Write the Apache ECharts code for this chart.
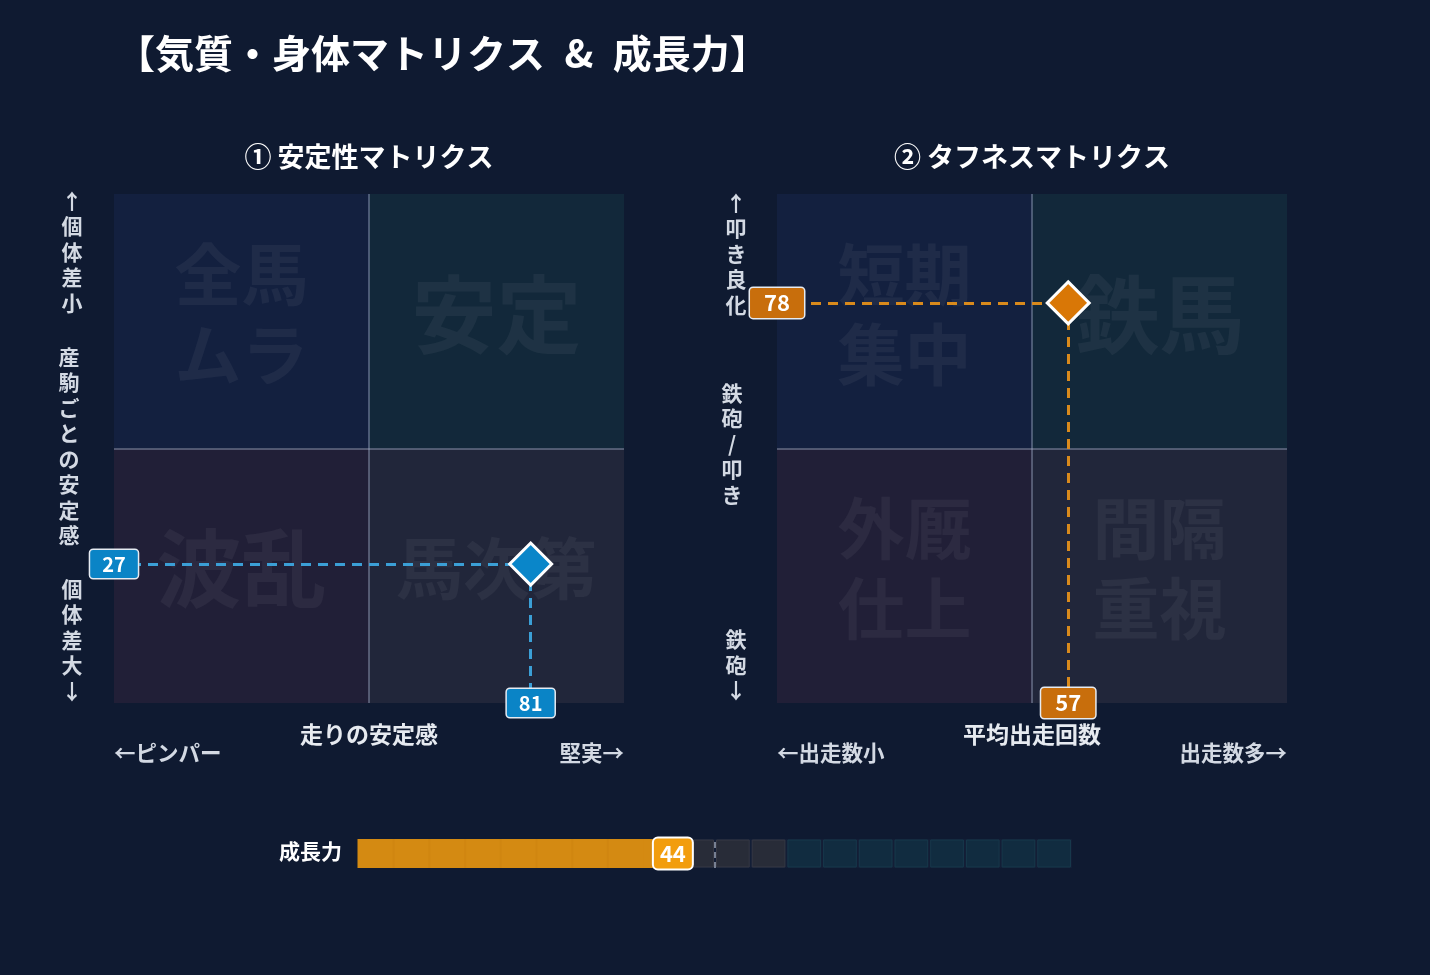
<!DOCTYPE html>
<html><head><meta charset="utf-8">
<script src="https://cdn.jsdelivr.net/npm/echarts@6/dist/echarts.min.js"></script>
<style>html,body{margin:0;padding:0;background:#0f1a31;}#c{width:1430px;height:975px;}</style>
</head><body><div id="c"></div>
<script>
// ---- data ----
const stabilityPoint = [81.7, 27.3];   // [走りの安定感, 産駒ごとの安定感]
const toughnessPoint = [57.1, 78.6];   // [平均出走回数, 鉄砲/叩き]
const growthValue = 44.1;              // 成長力
const stabilityQuadrants = ['全馬\nムラ', '安定', '波乱', '馬次第']; // TL, TR, BL, BR
const toughnessQuadrants = ['短期\n集中', '鉄馬', '外厩\n仕上', '間隔\n重視'];
const growthCellCount = 20;
const growthMidMark = 50;
const growthZoneBreak = 60;

// ---- style ----
const FONT = '"Noto Sans CJK JP","Noto Sans",sans-serif';
const quadColors = ['#13203f', '#12283a', '#211f37', '#21263a'];
const ghost = 'rgba(255,255,255,0.05)';
function ghostSize(name) {
  if (name.indexOf('\n') >= 0) return 67;
  return name.length >= 3 ? 67 : 85;
}
function quadrantArea(names) {
  const boxes = [[0, 50, 50, 100], [50, 50, 100, 100], [0, 0, 50, 50], [50, 0, 100, 50]];
  return boxes.map((b, i) => [
    { xAxis: b[0], yAxis: b[1], name: names[i], itemStyle: { color: quadColors[i], opacity: 1 },
      label: { show: true, position: 'inside', formatter: names[i], color: ghost, fontSize: ghostSize(names[i]),
        fontWeight: 'bold', fontFamily: FONT, lineHeight: 80, offset: [0, -7] } },
    { xAxis: b[2], yAxis: b[3] }
  ]);
}
function quadSeries(idx, names) {
  return {
    type: 'scatter', xAxisIndex: idx, yAxisIndex: idx, data: [], silent: true, z: 1,
    markArea: { silent: true, data: quadrantArea(names) },
    markLine: { silent: true, symbol: ['none', 'none'], label: { show: false },
      lineStyle: { type: 'solid', color: 'rgba(170,185,210,0.38)', width: 2 },
      data: [{ xAxis: 50 }, { yAxis: 50 }] }
  };
}
function pointSeries(idx, pt, fill, dash) {
  return {
    type: 'scatter', xAxisIndex: idx, yAxisIndex: idx, z: 5, clip: false,
    symbol: 'diamond', symbolSize: 42,
    itemStyle: { color: fill, borderColor: '#ffffff', borderWidth: 3, opacity: 1 },
    data: [pt],
    markLine: { silent: true, symbol: ['none', 'none'], label: { show: false },
      lineStyle: { type: [10, 7], color: dash, width: 3 },
      data: [
        [{ coord: [0, pt[1]] }, { coord: [pt[0], pt[1]] }],
        [{ coord: [pt[0], pt[1]] }, { coord: [pt[0], 0] }]
      ] }
  };
}
function valueLabelSeries(idx, pt, bg, fs, pad) {
  const lab = (v) => ({ show: true, position: 'inside', formatter: String(Math.floor(v)), color: '#ffffff',
    fontSize: fs, fontWeight: 'bold', fontFamily: FONT, backgroundColor: bg,
    borderColor: '#e6ebf2', borderWidth: 1.5, borderRadius: 3, padding: pad });
  return {
    type: 'scatter', xAxisIndex: idx, yAxisIndex: idx, z: 8, clip: false, symbolSize: 0, silent: true,
    itemStyle: { opacity: 1 },
    data: [
      { value: [0, pt[1]], label: lab(pt[1]) },
      { value: [pt[0], 0], label: lab(pt[0]) }
    ]
  };
}
const cells = [];
for (let i = 0; i < growthCellCount; i++) {
  const w = 100 / growthCellCount;
  cells.push([i * w, (i + 1) * w]);
}
function renderCell(params, api) {
  const s = api.value(0), e = api.value(1);
  const pa = api.coord([s, 0]), pb = api.coord([e, 1]);
  const x0 = pa[0], x1 = pb[0], yt = pb[1], yb = pa[1], h = yb - yt;
  const ch = [];
  if (growthValue >= e) {
    ch.push({ type: 'rect', shape: { x: x0 - 0.5, y: yt, width: x1 - x0 + 1.5, height: h }, style: { fill: '#d48a12' } });
    if (s > 0) ch.push({ type: 'rect', shape: { x: x0 - 1, y: yt, width: 2, height: h }, style: { fill: 'rgba(150,80,0,0.06)' } });
  } else {
    const teal = s >= growthZoneBreak;
    ch.push({ type: 'rect', shape: { x: x0 + 1.5, y: yt + 1, width: x1 - x0 - 3, height: h - 2 },
      style: { fill: teal ? '#112c40' : '#282c38', stroke: teal ? '#17384b' : '#363844', lineWidth: 1 } });
    if (growthValue > s) {
      const pv = api.coord([growthValue, 0]);
      ch.push({ type: 'rect', shape: { x: x0 - 0.5, y: yt, width: pv[0] - x0 + 0.5, height: h }, style: { fill: '#d48a12' } });
    }
  }
  return { type: 'group', children: ch };
}

const txt = (text, x, y, size, opts) => Object.assign({
  type: 'text', x: x, y: y, z: 20,
  style: Object.assign({ text: text, fill: '#d3d9e3', fontSize: size, fontWeight: 'bold', fontFamily: FONT,
    align: 'center', verticalAlign: 'middle' }, opts || {})
});
const vtxt = (s, x, y) => txt(Array.from(s).join('\n'), x, y, 21, { lineHeight: 25.5 });

const chart = echarts.init(document.getElementById('c'), null, { renderer: 'canvas' });
chart.setOption({
  backgroundColor: '#0f1a31',
  animation: false,
  grid: [
    { left: 114, top: 194, width: 510, height: 509 },
    { left: 777, top: 194, width: 510, height: 509 },
    { left: 358, top: 839, width: 714, height: 29, show: true, backgroundColor: '#131e36', borderWidth: 0 }
  ],
  xAxis: [0, 1, 2].map(i => ({ type: 'value', gridIndex: i, min: 0, max: 100, show: false })),
  yAxis: [
    { type: 'value', gridIndex: 0, min: 0, max: 100, show: false },
    { type: 'value', gridIndex: 1, min: 0, max: 100, show: false },
    { type: 'value', gridIndex: 2, min: 0, max: 1, show: false }
  ],
  graphic: [
    txt('【気質・身体マトリクス\u2002&\u2002成長力】', 116, 53, 39, { fill: '#ffffff', align: 'left' }),
    txt('① 安定性マトリクス', 369, 157, 27, { fill: '#ffffff' }),
    txt('② タフネスマトリクス', 1032, 157, 27, { fill: '#ffffff' }),
    vtxt('↑個体差小', 72, 252),
    vtxt('産駒ごとの安定感', 69, 446),
    vtxt('個体差大↓', 72, 640),
    vtxt('↑叩き良化', 736, 254),
    vtxt('鉄砲/叩き', 732, 444),
    vtxt('鉄砲↓', 736, 665),
    txt('走りの安定感', 369, 734, 23, { fill: '#e6eaf0' }),
    txt('←ピンパー', 114, 753, 21.5, { align: 'left' }),
    txt('堅実→', 624, 753, 21.5, { align: 'right' }),
    txt('平均出走回数', 1032, 734, 23, { fill: '#e6eaf0' }),
    txt('←出走数小', 777, 753, 21.5, { align: 'left' }),
    txt('出走数多→', 1287, 753, 21.5, { align: 'right' }),
    txt('成長力', 342, 851, 21, { fill: '#ffffff', align: 'right' })
  ],
  series: [
    quadSeries(0, stabilityQuadrants),
    quadSeries(1, toughnessQuadrants),
    pointSeries(0, stabilityPoint, '#0a86c9', '#3b9fd6'),
    pointSeries(1, toughnessPoint, '#d97706', '#d98a1c'),
    valueLabelSeries(0, stabilityPoint, '#0a84c6', 20, [4, 12]),
    valueLabelSeries(1, toughnessPoint, '#c86e0c', 22, [4, 14]),
    {
      type: 'custom', xAxisIndex: 2, yAxisIndex: 2, z: 2, silent: true,
      renderItem: renderCell, data: cells,
      markLine: { silent: true, symbol: ['none', 'none'], label: { show: false },
        lineStyle: { type: [6, 4], color: '#9aa2b2', width: 1.5 },
        data: [{ xAxis: growthMidMark }] }
    },
    {
      type: 'scatter', xAxisIndex: 2, yAxisIndex: 2, z: 8, clip: false, symbolSize: 0, silent: true,
      itemStyle: { opacity: 1 },
      data: [[growthValue, 0.5]],
      label: { show: true, position: 'inside', formatter: (p) => String(Math.floor(p.value[0])), color: '#ffffff',
        fontSize: 22, fontWeight: 'bold', fontFamily: FONT, backgroundColor: '#f29d0d',
        borderColor: '#ffffff', borderWidth: 2, borderRadius: 4, padding: [4, 6] }
    }
  ]
});
</script></body></html>
